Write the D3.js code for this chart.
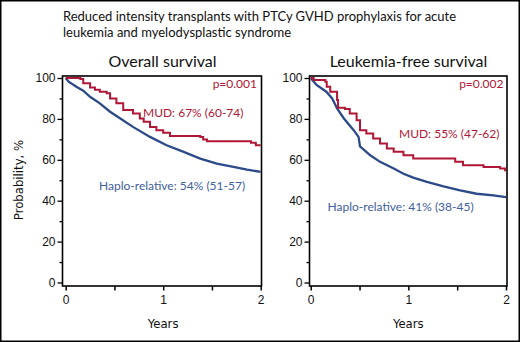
<!DOCTYPE html>
<html><head><meta charset="utf-8">
<script src="https://cdn.jsdelivr.net/npm/d3@7"></script>
<style>body{margin:0;background:#fff}svg{display:block}</style>
</head><body><svg id="c" width="520" height="342"></svg>
<script>
const titleLines = ["Reduced intensity transplants with PTCy GVHD prophylaxis for acute","leukemia and myelodysplastic syndrome"];
const panelTitles = ["Overall survival","Leukemia-free survival"];
const yTicks = [0,20,40,60,80,100];
const yMinor = [10,30,50,70,90];
const xTicks = [0,1,2];
const xMinor = [0.5,1.5];
const pValues = ["p=0.001","p=0.002"];
const mudLabels = ["MUD: 67% (60-74)","MUD: 55% (47-62)"];
const haploLabels = ["Haplo-relative: 54% (51-57)","Haplo-relative: 41% (38-45)"];

// Overall survival
const osMudT = [0,0.15,0.18,0.25,0.30,0.35,0.42,0.455,0.52,0.59,0.69,0.76,0.80,0.865,0.93,1.0,1.07,1.38,1.41,1.45,1.72,1.90,1.95,2.0];
const osMudS = [100,99.5,97.4,95.4,94.3,93.3,92.5,90,87.6,84.3,82.7,80.2,78.6,76.1,74.5,73.2,71.6,71.2,69.9,69.1,69.1,68.3,67.1,67.1];
const osHapT = [0,0.03,0.11,0.18,0.25,0.35,0.455,0.56,0.69,0.865,1.035,1.21,1.38,1.55,1.72,1.86,2.0];
const osHapS = [100,98.2,95.7,93.8,90.8,87.6,83.5,80.2,76.1,71.2,67.1,63.9,60.6,58.1,56.5,55.2,54.1];
// Leukemia-free survival
const lfsMudT = [0,0.03,0.15,0.164,0.2,0.27,0.28,0.35,0.40,0.47,0.505,0.57,0.64,0.71,0.78,0.85,0.95,1.05,1.43,1.48,1.56,1.77,1.94,1.99,2.0];
const lfsMudS = [100,99,98.2,95.7,93.3,89.2,85.5,84.8,82.7,79.4,74.5,72.9,70.4,68,65.5,63.9,62.2,60.6,60.6,59,57.3,56.5,55.7,54.9,54.9];
const lfsHapT = [0,0.06,0.16,0.22,0.27,0.34,0.44,0.49,0.505,0.61,0.71,0.85,0.95,1.05,1.19,1.36,1.53,1.70,1.87,2.0];
const lfsHapS = [100,96.6,93.3,90,85.1,80.2,74.5,71.2,66.6,62.2,59,55.7,53.2,51.3,49.2,47.0,45.1,43.4,42.6,41.8];

const RED = "#b01635", BLUE = "#2c4a8a", BLUE_TXT = "#3f5e9e";
const svg = d3.select("#c");
svg.append("rect").attr("x",0.75).attr("y",0.75).attr("width",518.5).attr("height",340.5)
  .attr("fill","none").attr("stroke","#000").attr("stroke-width",1.5);

svg.append("text").attr("x",63).attr("y",21).attr("font-family","Lato, 'Noto Sans', sans-serif")
  .attr("font-size",13).attr("fill","#111")
  .selectAll("tspan").data(titleLines).join("tspan").attr("x",63).attr("dy",(d,i)=>i?16:0).text(d=>d);

const panels = [
  {frame:[62.5,261.5], x0:65.7, x2:260.7, mud:[osMudT,osMudS], hap:[osHapT,osHapS], cx:162.5,
   p:[257,88], m:[143,117], h:[99,189.5]},
  {frame:[309.5,507], x0:310.7, x2:506, mud:[lfsMudT,lfsMudS], hap:[lfsHapT,lfsHapS], cx:408.5,
   p:[503.5,88], m:[399,138], h:[327.5,211]}
];
const yTop = 76, yBot = 286;
const y = d3.scaleLinear().domain([0,100]).range([282.5,78]);
const condensed = "'Liberation Sans Narrow','DejaVu Sans Condensed','Roboto Condensed',sans-serif";

panels.forEach((P,i)=>{
  const x = d3.scaleLinear().domain([0,2]).range([P.x0,P.x2]);
  const g = svg.append("g");
  g.append("text").attr("x",P.cx).attr("y",67).attr("text-anchor","middle")
    .attr("font-family","Lato, sans-serif").attr("font-size",16).attr("fill","#111").text(panelTitles[i]);
  // y axis
  const ya = g.append("g").attr("transform",`translate(${P.frame[0]},0)`)
    .call(d3.axisLeft(y).tickValues(yTicks).tickSize(5).tickPadding(2).tickSizeOuter(0));
  ya.select(".domain").remove();
  ya.selectAll("text").attr("font-family","'Liberation Sans',Arial,sans-serif").attr("font-size",12).attr("fill","#111");
  ya.selectAll("line").attr("stroke-width",1.3);
  const ym = g.append("g").attr("transform",`translate(${P.frame[0]},0)`)
    .call(d3.axisLeft(y).tickValues(yMinor).tickSize(3).tickFormat(""));
  ym.select(".domain").remove(); ym.selectAll("line").attr("stroke-width",1.3);
  // x axis
  const xa = g.append("g").attr("transform",`translate(0,${yBot})`)
    .call(d3.axisBottom(x).tickValues(xTicks).tickSize(4.5).tickPadding(5).tickFormat(d3.format("d")));
  xa.select(".domain").remove();
  xa.selectAll("text").attr("font-family","'Liberation Sans',Arial,sans-serif").attr("font-size",12).attr("fill","#111");
  xa.selectAll("line").attr("stroke-width",1.5);
  const xm = g.append("g").attr("transform",`translate(0,${yBot})`)
    .call(d3.axisBottom(x).tickValues(xMinor).tickSize(4.5).tickFormat(""));
  xm.select(".domain").remove(); xm.selectAll("line").attr("stroke-width",1.5);
  // frame
  g.append("rect").attr("x",P.frame[0]).attr("y",yTop).attr("width",P.frame[1]-P.frame[0]).attr("height",yBot-yTop)
    .attr("fill","none").attr("stroke","#000").attr("stroke-width",1.6);
  // curves
  const stepLine = d3.line().x(d=>x(d[0])).y(d=>y(d[1])).curve(d3.curveStepAfter);
  const linLine = d3.line().x(d=>x(d[0])).y(d=>y(d[1]));
  g.append("path").attr("d",linLine(d3.zip(P.hap[0],P.hap[1]))).attr("fill","none").attr("stroke",BLUE).attr("stroke-width",2.3);
  g.append("path").attr("d",stepLine(d3.zip(P.mud[0],P.mud[1]))).attr("fill","none").attr("stroke",RED).attr("stroke-width",2);
  // labels
  const f = "Lato, 'Noto Sans', sans-serif";
  g.append("text").attr("x",P.p[0]).attr("y",P.p[1]).attr("text-anchor","end").attr("font-family",f).attr("font-size",12).attr("fill",RED).text(pValues[i]);
  g.append("text").attr("x",P.m[0]).attr("y",P.m[1]).attr("font-family",f).attr("font-size",12).attr("fill",RED).text(mudLabels[i]);
  g.append("text").attr("x",P.h[0]).attr("y",P.h[1]).attr("font-family",f).attr("font-size",12).attr("fill",BLUE_TXT).text(haploLabels[i]);
  g.append("text").attr("x",x(1)).attr("y",328).attr("text-anchor","middle").attr("font-family",condensed)
    .attr("font-size",13).attr("fill","#111").text("Years");
});
svg.append("text").attr("transform","translate(23,180) rotate(-90)").attr("text-anchor","middle")
  .attr("font-family",condensed).attr("font-size",13).attr("fill","#111").text("Probability, %");
</script></body></html>
